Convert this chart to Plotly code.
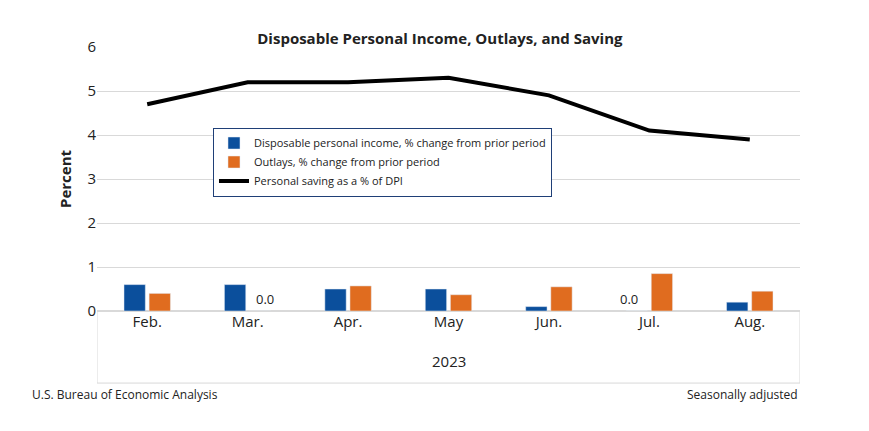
import plotly.graph_objects as go

months = ["Feb.", "Mar.", "Apr.", "May", "Jun.", "Jul.", "Aug."]
dpi_change = [0.6, 0.6, 0.5, 0.5, 0.1, 0.0, 0.2]
outlays_change = [0.4, -0.03, 0.57, 0.37, 0.55, 0.85, 0.45]
saving_rate = [4.7, 5.2, 5.2, 5.3, 4.9, 4.1, 3.9]

fig = go.Figure()
fig.add_trace(go.Bar(x=months, y=dpi_change, name="Disposable personal income, % change from prior period",
                     marker_color="#0b4f9c"))
fig.add_trace(go.Bar(x=months, y=outlays_change, name="Outlays, % change from prior period",
                     marker_color="#e06c1f"))
fig.add_trace(go.Scatter(x=months, y=saving_rate, name="Personal saving as a % of DPI", mode="lines",
                         line=dict(color="black", width=4)))

fig.add_annotation(x="Mar.", y=0.0, text="0.0", showarrow=False, xshift=17, yshift=12, font=dict(size=13, color="#222"))
fig.add_annotation(x="Jul.", y=0.0, text="0.0", showarrow=False, xshift=-20, yshift=12, font=dict(size=13, color="#222"))
fig.add_annotation(x=0.5, y=-0.235, xref="paper", yref="paper", text="2023", showarrow=False, font=dict(size=15, color="#222"))
fig.add_annotation(x=-0.095, y=-0.356, xref="paper", yref="paper", text="U.S. Bureau of Economic Analysis",
                   showarrow=False, xanchor="left", font=dict(size=12, color="#222"))
fig.add_annotation(x=1.0, y=-0.356, xref="paper", yref="paper", text="Seasonally adjusted",
                   showarrow=False, xanchor="right", font=dict(size=12, color="#222"))

# frame below the axis
for xv in (-0.5, 6.5):
    fig.add_shape(type="line", xref="x", yref="paper", x0=xv, x1=xv, y0=0, y1=-0.273,
                  line=dict(color="#d9d9d9", width=1))
fig.add_shape(type="line", xref="x", yref="paper", x0=-0.5, x1=6.5, y0=-0.273, y1=-0.273,
              line=dict(color="#d9d9d9", width=1))

fig.update_layout(
    width=869, height=431,
    margin=dict(l=89, r=77, t=39, b=128),
    paper_bgcolor="white", plot_bgcolor="white",
    font=dict(family="Open Sans, Arial, sans-serif", color="#222"),
    title=dict(text="<b>Disposable Personal Income, Outlays, and Saving</b>", x=0.497, y=0.94,
               xanchor="center", font=dict(size=15, color="#222")),
    barmode="group", bargap=0.5, bargroupgap=0.15,
    xaxis=dict(range=[-0.5, 6.5], showgrid=False, ticks="", tickfont=dict(size=15), showline=False),
    yaxis=dict(range=[0, 6], dtick=1, gridcolor="#d9d9d9", zeroline=True, zerolinecolor="#d9d9d9",
               tickfont=dict(size=15), title=dict(text="<b>Percent</b>", font=dict(size=15), standoff=12)),
    legend=dict(x=0.165, y=0.695, xanchor="left", yanchor="top", bordercolor="#1f3f77", borderwidth=1,
                bgcolor="white", font=dict(size=11), tracegroupgap=0, itemwidth=30),
)

fig.write_html("out.html")
